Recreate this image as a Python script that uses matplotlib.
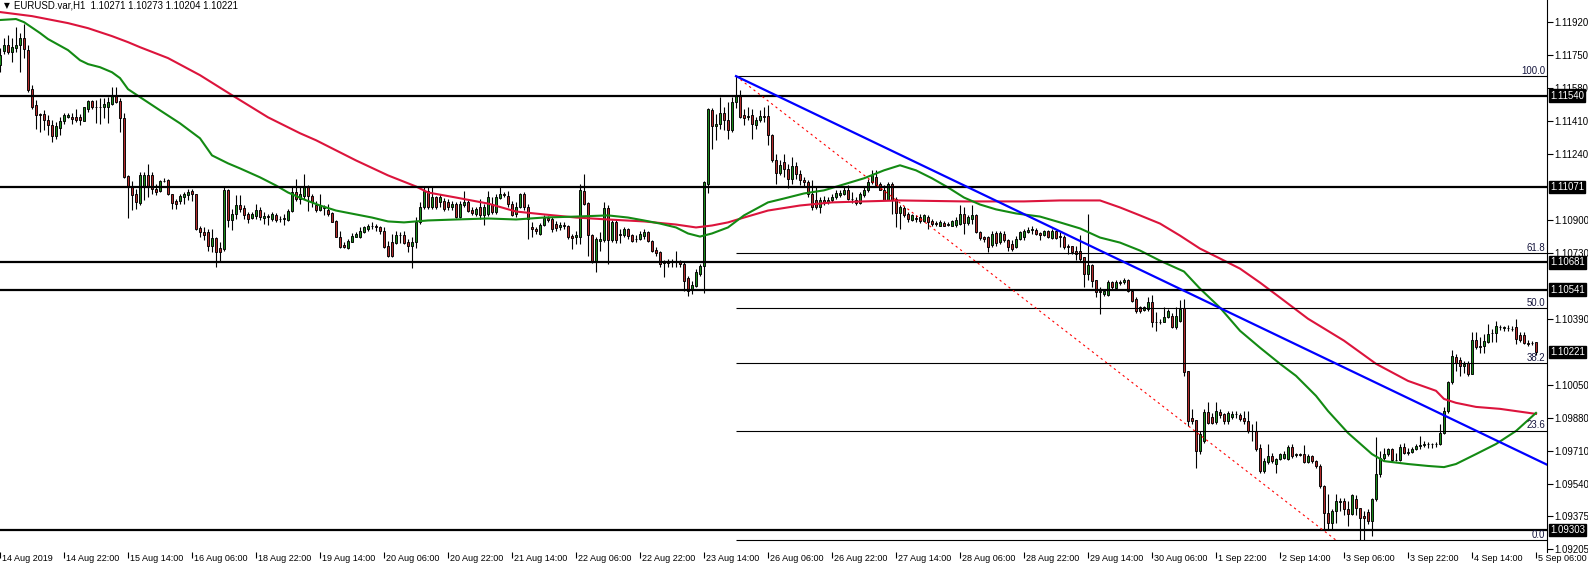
import numpy as np
import matplotlib
matplotlib.use("Agg")
import matplotlib.pyplot as plt

plt.rcParams["font.family"] = ["Liberation Sans", "DejaVu Sans"]

# EURUSD H1 candles, prices in points (1.11697 -> 111697)
open_pts = [
    111697, 111771, 111800, 111762, 111786, 111800, 111838, 111774, 111573, 111491,
    111443, 111444, 111413, 111387, 111332, 111374, 111408, 111430, 111430, 111430,
    111428, 111411, 111470, 111511, 111483, 111482, 111479, 111482, 111499, 111542,
    111511, 111422, 111124, 111074, 111031, 110987, 111069, 111129, 111133, 111061,
    111047, 111100, 111104, 111035, 110997, 110997, 111018, 111026, 111047, 111031,
    110858, 110840, 110840, 110768, 110806, 110754, 110751, 111052, 110897, 110928,
    110975, 110962, 110928, 110911, 110920, 110949, 110910, 110920, 110905, 110926,
    110902, 110905, 110900, 110945, 111043, 111008, 111025, 111068, 111025, 110977,
    110951, 110960, 110951, 110934, 110896, 110814, 110771, 110755, 110788, 110814,
    110814, 110840, 110853, 110871, 110871, 110865, 110841, 110767, 110785, 110779,
    110824, 110824, 110785, 110767, 110785, 110888, 110965, 111051, 110965, 111017,
    110991, 110999, 110991, 110965, 110982, 110917, 110974, 110991, 110951, 110931,
    110965, 110926, 110931, 110982, 110939, 111013, 111034, 111025, 110982, 110928,
    110966, 111031, 110966, 110863, 110851, 110825, 110876, 110911, 110902, 110880,
    110863, 110876, 110866, 110816, 110811, 110811, 111048, 110986, 110820, 110682,
    110790, 110794, 110961, 110794, 110888, 110828, 110820, 110851, 110820, 110800,
    110802, 110815, 110835, 110789, 110747, 110734, 110680, 110682, 110682, 110685,
    110685, 110673, 110601, 110544, 110562, 110622, 110665, 111086, 111467, 111383,
    111395, 111452, 111412, 111365, 111508, 111542, 111442, 111430, 111442, 111387,
    111413, 111435, 111435, 111335, 111210, 111141, 111198, 111163, 111112, 111175,
    111138, 111107, 111095, 111034, 111000, 110966, 111003, 110991, 111000, 111017,
    111026, 111034, 111052, 111009, 111000, 110986, 111026, 111052, 111095, 111120,
    111086, 111055, 111003, 111086, 111009, 110935, 110962, 110931, 110897, 110909,
    110917, 110893, 110917, 110893, 110883, 110871, 110883, 110876, 110871, 110876,
    110880, 110931, 110883, 110905, 110923, 110837, 110811, 110814, 110773, 110831,
    110785, 110828, 110794, 110776, 110759, 110802, 110811, 110837, 110849, 110849,
    110832, 110820, 110842, 110808, 110842, 110815, 110811, 110763, 110763, 110742,
    110742, 110708, 110622, 110670, 110591, 110536, 110519, 110515, 110579, 110550,
    110579, 110579, 110588, 110536, 110493, 110450, 110436, 110441, 110479, 110376,
    110376, 110373, 110398, 110407, 110347, 110381, 110447, 110123, 109882, 109869,
    109710, 109762, 109913, 109886, 109857, 109913, 109900, 109865, 109886, 109900,
    109896, 109882, 109862, 109814, 109814, 109728, 109607, 109655, 109685, 109641,
    109667, 109676, 109667, 109731, 109690, 109693, 109693, 109653, 109684, 109658,
    109633, 109529, 109392, 109340, 109400, 109445, 109455, 109409, 109387, 109461,
    109414, 109375, 109397, 109349, 109461, 109590, 109676, 109696, 109719, 109662,
    109665, 109731, 109701, 109705, 109719, 109736, 109741, 109744, 109748, 109744,
    109744, 109805, 109916, 110063, 110195, 110178, 110149, 110161, 110109, 110281,
    110252, 110252, 110269, 110315, 110315, 110346, 110343, 110343, 110340, 110346,
    110309, 110309, 110264, 110266, 110271,
]
high_pts = [
    111783, 111835, 111852, 111835, 111895, 111860, 111907, 111800, 111594, 111516,
    111448, 111465, 111439, 111413, 111405, 111430, 111448, 111448, 111448, 111470,
    111446, 111482, 111516, 111516, 111516, 111525, 111525, 111534, 111585, 111585,
    111525, 111448, 111129, 111100, 111061, 111147, 111147, 111190, 111147, 111086,
    111107, 111116, 111112, 111035, 111009, 111031, 111043, 111061, 111061, 111031,
    110871, 110863, 110854, 110854, 110811, 110785, 111069, 111061, 110957, 111030,
    111026, 110975, 110940, 110940, 110983, 110966, 110939, 110931, 110939, 110934,
    110922, 110931, 110957, 111072, 111111, 111068, 111137, 111077, 111034, 110999,
    111034, 110977, 110982, 110939, 110900, 110845, 110785, 110802, 110831, 110836,
    110862, 110871, 110879, 110888, 110879, 110871, 110862, 110793, 110828, 110845,
    110836, 110845, 110802, 110810, 110914, 110991, 111068, 111072, 111068, 111025,
    111034, 111013, 111008, 110996, 110991, 110999, 111051, 111008, 110965, 110965,
    111008, 110982, 111051, 111017, 111034, 111068, 111043, 111051, 110999, 110992,
    111038, 111043, 110983, 110888, 110863, 110883, 110923, 110918, 110914, 110894,
    110888, 110888, 110876, 110828, 110845, 111086, 111134, 110992, 110828, 110811,
    110837, 110992, 110975, 110897, 110897, 110854, 110863, 110859, 110828, 110820,
    110845, 110854, 110845, 110794, 110759, 110742, 110694, 110699, 110699, 110742,
    110691, 110682, 110613, 110587, 110647, 110673, 111100, 111477, 111478, 111447,
    111533, 111481, 111508, 111533, 111640, 111568, 111473, 111482, 111473, 111430,
    111465, 111482, 111490, 111340, 111241, 111206, 111241, 111189, 111224, 111198,
    111155, 111120, 111103, 111103, 111069, 111017, 111021, 111017, 111034, 111052,
    111055, 111069, 111077, 111043, 111017, 111043, 111069, 111112, 111158, 111158,
    111095, 111077, 111095, 111095, 111017, 110974, 110969, 110940, 110931, 110923,
    110928, 110928, 110923, 110905, 110893, 110897, 110893, 110888, 110900, 110914,
    110974, 110966, 110923, 110974, 110931, 110845, 110819, 110819, 110845, 110845,
    110845, 110845, 110802, 110794, 110819, 110845, 110854, 110863, 110866, 110859,
    110837, 110849, 110849, 110854, 110849, 110837, 110820, 110777, 110768, 110768,
    110820, 110708, 110932, 110674, 110591, 110553, 110545, 110588, 110584, 110591,
    110588, 110601, 110596, 110545, 110502, 110459, 110459, 110502, 110515, 110424,
    110390, 110450, 110441, 110419, 110450, 110488, 110493, 110123, 109925, 109869,
    109814, 109925, 109960, 109908, 109960, 109925, 109908, 109917, 109917, 109917,
    109908, 109917, 109917, 109848, 109865, 109745, 109676, 109745, 109702, 109676,
    109701, 109710, 109739, 109744, 109701, 109701, 109739, 109693, 109690, 109662,
    109641, 109533, 109490, 109409, 109490, 109469, 109469, 109455, 109490, 109486,
    109418, 109400, 109409, 109469, 109782, 109710, 109727, 109727, 109727, 109701,
    109744, 109753, 109727, 109731, 109744, 109787, 109762, 109758, 109753, 109758,
    109851, 109934, 110071, 110229, 110209, 110192, 110174, 110174, 110321, 110321,
    110295, 110312, 110364, 110338, 110381, 110360, 110355, 110360, 110355, 110389,
    110321, 110321, 110281, 110278, 110273,
]
low_pts = [
    111663, 111752, 111752, 111714, 111766, 111663, 111731, 111559, 111473, 111370,
    111353, 111362, 111336, 111301, 111315, 111336, 111396, 111422, 111396, 111405,
    111387, 111408, 111456, 111473, 111401, 111396, 111425, 111401, 111491, 111504,
    111350, 111117, 110911, 110949, 110957, 110975, 111004, 111018, 111031, 111026,
    111043, 111095, 111026, 110957, 110957, 110983, 110983, 111000, 110997, 110846,
    110811, 110794, 110742, 110734, 110656, 110682, 110742, 110863, 110846, 110906,
    110940, 110906, 110885, 110902, 110906, 110897, 110879, 110876, 110893, 110888,
    110888, 110876, 110896, 110939, 110999, 110982, 111008, 110948, 110965, 110939,
    110948, 110926, 110922, 110888, 110810, 110755, 110755, 110750, 110785, 110810,
    110807, 110831, 110845, 110853, 110845, 110828, 110755, 110707, 110707, 110776,
    110779, 110776, 110733, 110650, 110755, 110879, 110955, 110957, 110957, 110957,
    110965, 110948, 110951, 110951, 110910, 110910, 110965, 110939, 110927, 110922,
    110905, 110874, 110922, 110931, 110931, 111008, 111020, 110965, 110922, 110914,
    110962, 110949, 110802, 110811, 110828, 110820, 110871, 110888, 110837, 110845,
    110849, 110854, 110802, 110751, 110777, 110777, 110975, 110716, 110677, 110630,
    110742, 110785, 110673, 110785, 110780, 110780, 110811, 110802, 110785, 110785,
    110794, 110802, 110785, 110734, 110716, 110656, 110608, 110656, 110656, 110656,
    110656, 110536, 110510, 110519, 110553, 110613, 110522, 111038, 111266, 111309,
    111369, 111361, 111318, 111352, 111478, 111422, 111387, 111413, 111318, 111370,
    111404, 111404, 111286, 111198, 111086, 111129, 111120, 111065, 111086, 111112,
    111077, 111069, 111017, 110952, 110957, 110935, 110974, 110983, 110991, 111009,
    111017, 111026, 111000, 110986, 110979, 110983, 111017, 111043, 111086, 111069,
    111052, 111000, 111000, 110931, 110862, 110854, 110914, 110888, 110893, 110888,
    110883, 110888, 110854, 110871, 110871, 110866, 110866, 110866, 110866, 110862,
    110876, 110828, 110876, 110880, 110831, 110794, 110785, 110733, 110759, 110768,
    110776, 110785, 110742, 110742, 110756, 110794, 110798, 110832, 110828, 110820,
    110798, 110815, 110808, 110803, 110803, 110760, 110751, 110725, 110725, 110691,
    110687, 110553, 110588, 110553, 110502, 110416, 110510, 110510, 110545, 110545,
    110567, 110570, 110527, 110476, 110419, 110419, 110429, 110433, 110347, 110330,
    110364, 110373, 110395, 110343, 110338, 110373, 110097, 109839, 109848, 109624,
    109693, 109753, 109848, 109848, 109848, 109882, 109848, 109848, 109874, 109882,
    109865, 109848, 109805, 109762, 109710, 109599, 109599, 109642, 109650, 109598,
    109662, 109667, 109662, 109676, 109680, 109684, 109650, 109650, 109650, 109624,
    109521, 109301, 109301, 109301, 109340, 109400, 109383, 109323, 109383, 109383,
    109254, 109254, 109335, 109271, 109455, 109576, 109658, 109684, 109655, 109658,
    109660, 109693, 109690, 109701, 109713, 109719, 109731, 109727, 109727, 109731,
    109741, 109799, 109908, 110054, 110123, 110097, 110114, 110097, 110106, 110235,
    110212, 110212, 110264, 110269, 110269, 110333, 110329, 110329, 110326, 110260,
    110269, 110260, 110252, 110257, 110204,
]
close_pts = [
    111749, 111800, 111762, 111792, 111800, 111835, 111778, 111568, 111482, 111439,
    111440, 111413, 111387, 111332, 111382, 111408, 111439, 111439, 111417, 111413,
    111413, 111479, 111511, 111482, 111482, 111483, 111499, 111508, 111542, 111508,
    111422, 111121, 111074, 111026, 110992, 111129, 111129, 111074, 111061, 111043,
    111100, 111102, 111035, 110987, 110983, 111021, 111031, 111043, 111031, 110854,
    110837, 110820, 110768, 110806, 110734, 110734, 111052, 110897, 110932, 110975,
    110954, 110926, 110902, 110928, 110949, 110914, 110922, 110914, 110931, 110900,
    110905, 110910, 110945, 111043, 111008, 111034, 111068, 111025, 110991, 110951,
    110974, 110968, 110931, 110891, 110814, 110759, 110759, 110793, 110819, 110828,
    110845, 110862, 110871, 110869, 110862, 110841, 110762, 110716, 110716, 110824,
    110822, 110779, 110767, 110788, 110888, 110965, 111048, 110965, 111017, 110965,
    111017, 110957, 110965, 110982, 110914, 110982, 110991, 110948, 110934, 110957,
    110926, 110965, 111017, 110939, 111017, 111034, 111030, 110982, 110927, 110966,
    111031, 110966, 110906, 110851, 110842, 110876, 110911, 110897, 110854, 110859,
    110876, 110866, 110811, 110806, 110821, 111052, 110983, 110820, 110682, 110802,
    110802, 110961, 110794, 110888, 110794, 110820, 110851, 110816, 110790, 110804,
    110828, 110835, 110790, 110742, 110728, 110673, 110685, 110680, 110685, 110682,
    110673, 110587, 110536, 110565, 110630, 110661, 111095, 111473, 111383, 111395,
    111452, 111412, 111365, 111508, 111542, 111430, 111425, 111435, 111396, 111413,
    111435, 111430, 111336, 111206, 111141, 111181, 111163, 111112, 111175, 111138,
    111103, 111095, 111034, 110966, 110966, 111003, 110991, 111003, 111017, 111038,
    111038, 111055, 111009, 111005, 110986, 111031, 111052, 111095, 111129, 111077,
    111055, 111003, 111086, 111003, 110935, 110966, 110923, 110905, 110923, 110905,
    110893, 110923, 110888, 110880, 110880, 110888, 110871, 110878, 110892, 110897,
    110931, 110883, 110914, 110923, 110837, 110807, 110802, 110759, 110828, 110780,
    110831, 110794, 110759, 110751, 110802, 110840, 110842, 110849, 110851, 110825,
    110820, 110842, 110811, 110842, 110808, 110811, 110760, 110760, 110734, 110725,
    110699, 110622, 110670, 110584, 110527, 110527, 110536, 110579, 110553, 110579,
    110577, 110591, 110536, 110484, 110429, 110429, 110453, 110479, 110373, 110374,
    110373, 110402, 110429, 110347, 110407, 110441, 110115, 109865, 109865, 109710,
    109796, 109913, 109853, 109853, 109917, 109896, 109865, 109908, 109903, 109898,
    109874, 109862, 109814, 109812, 109719, 109607, 109659, 109685, 109659, 109667,
    109693, 109696, 109731, 109684, 109693, 109690, 109653, 109684, 109658, 109633,
    109529, 109392, 109340, 109400, 109452, 109455, 109409, 109387, 109483, 109414,
    109366, 109363, 109349, 109461, 109590, 109676, 109696, 109719, 109662, 109665,
    109731, 109701, 109707, 109719, 109736, 109741, 109744, 109748, 109744, 109746,
    109805, 109916, 110063, 110200, 110161, 110149, 110157, 110109, 110281, 110243,
    110248, 110274, 110312, 110319, 110355, 110348, 110346, 110341, 110338, 110286,
    110281, 110264, 110262, 110268, 110221,
]

# moving averages, sampled (bar index, price in points)
green_ma_bars = [0, 4, 6, 10, 12, 17, 20, 22, 25, 28, 30, 32, 35, 40, 45, 50, 53, 57, 60, 65,
                 69, 72, 76, 80, 84, 89, 93, 97, 101, 107, 114, 122, 129, 136, 144, 152, 157,
                 161, 165, 169, 172, 175, 178, 182, 186, 192, 196, 201, 206, 211, 216, 221,
                 225, 229, 233, 237, 241, 245, 249, 254, 260, 265, 270, 275, 280, 285, 290,
                 296, 300, 305, 310, 315, 320, 324, 329, 332, 337, 343, 346, 352, 357, 361,
                 364, 369, 374, 379, 384]
green_ma_pts = [111929, 111934, 111918, 111862, 111831, 111774, 111722, 111702, 111686, 111660,
                111630, 111573, 111532, 111464, 111397, 111320, 111232, 111191, 111165, 111119,
                111077, 111041, 111005, 110974, 110948, 110928, 110912, 110892, 110887, 110897,
                110902, 110907, 110902, 110912, 110917, 110923, 110912, 110897, 110881, 110861,
                110830, 110814, 110830, 110861, 110923, 110990, 111010, 111036, 111052, 111083,
                111114, 111155, 111181, 111155, 111114, 111067, 111015, 110979, 110954, 110933,
                110917, 110887, 110856, 110809, 110783, 110742, 110690, 110634, 110546, 110448,
                110329, 110242, 110159, 110097, 109994, 109916, 109803, 109694, 109658, 109643,
                109633, 109627, 109643, 109694, 109746, 109813, 109906]
red_ma_bars = [0, 8, 17, 22, 28, 32, 35, 42, 50, 58, 67, 75, 79, 89, 97, 104, 107, 114, 122,
               129, 136, 144, 152, 161, 169, 174, 178, 182, 186, 192, 200, 208, 216, 225, 241,
               256, 265, 275, 280, 285, 290, 295, 300, 305, 310, 315, 320, 327, 336, 344, 352,
               359, 361, 364, 369, 375, 384]
red_ma_pts = [111970, 111949, 111913, 111887, 111846, 111815, 111789, 111733, 111645, 111542,
              111428, 111346, 111310, 111206, 111129, 111072, 111041, 111015, 110984, 110943,
              110928, 110912, 110902, 110892, 110876, 110861, 110871, 110887, 110912, 110948,
              110974, 110990, 110995, 111000, 110995, 110995, 111000, 111000, 110964, 110923,
              110881, 110819, 110752, 110701, 110649, 110577, 110500, 110391, 110278, 110159,
              110071, 110020, 109978, 109958, 109937, 109927, 109901]

# objects on the chart
hline_prices = [1.11540, 1.11071, 1.10681, 1.10541, 1.09303]
fib_bars = [184, 334]
fib_prices = [1.11640, 1.09251]
fib_levels = [100.0, 61.8, 50.0, 38.2, 23.6, 0.0]
trend_bars = [184, 334]
trend_prices = [1.11640, 1.10160]
last_price = 1.10221

# price scale labels (the ones under the price boxes are hidden in the original)
y_ticks = [1.11920, 1.11750, 1.11580, 1.11410, 1.11240, 1.10900, 1.10730,
           1.10390, 1.10050, 1.09880, 1.09710, 1.09540, 1.09375, 1.09205]
x_labels = ["14 Aug 2019", "14 Aug 22:00", "15 Aug 14:00", "16 Aug 06:00", "18 Aug 22:00",
            "19 Aug 14:00", "20 Aug 06:00", "20 Aug 22:00", "21 Aug 14:00", "22 Aug 06:00",
            "22 Aug 22:00", "23 Aug 14:00", "26 Aug 06:00", "26 Aug 22:00", "27 Aug 14:00",
            "28 Aug 06:00", "28 Aug 22:00", "29 Aug 14:00", "30 Aug 06:00", "1 Sep 22:00",
            "2 Sep 14:00", "3 Sep 06:00", "3 Sep 22:00", "4 Sep 14:00", "5 Sep 06:00"]
title = "EURUSD.var,H1  1.10271 1.10273 1.10204 1.10221"

o = np.array(open_pts) / 1e5
h = np.array(high_pts) / 1e5
l = np.array(low_pts) / 1e5
c = np.array(close_pts) / 1e5
h = np.maximum(h, np.maximum(o, c))
l = np.minimum(l, np.minimum(o, c))
idx = np.arange(len(o))

FS = 6.5     # time axis / fib labels
FS_Y = 6.9   # price axis labels
fig = plt.figure(figsize=(15.88, 5.70), dpi=100)
ax = fig.add_axes([0, 18 / 570, 1547 / 1588, 552 / 570])
x_right = 386.75
ax.set_xlim(0, x_right)
ax.set_ylim(1.09190, 1.12032)

# candles
up = c >= o
body_lo = np.minimum(o, c)
body_h = np.maximum(np.abs(c - o), 0.000012)
ax.vlines(idx, l, h, color="black", lw=0.8, zorder=2)
ax.bar(idx, body_h, bottom=body_lo, width=0.7,
       color=np.where(up, "#1a8a1a", "#b32a2a"), edgecolor="black", linewidth=0.65, zorder=3)

# moving averages
ax.plot(red_ma_bars, np.array(red_ma_pts) / 1e5, color="#dc143c", lw=1.5, zorder=4)
ax.plot(green_ma_bars, np.array(green_ma_pts) / 1e5, color="#138a13", lw=1.5, zorder=4)

# horizontal levels
for p in hline_prices:
    ax.axhline(p, color="black", lw=1.6, zorder=5)

# fibonacci retracement
fib_hi, fib_lo = fib_prices
for lev in fib_levels:
    p = fib_lo + (fib_hi - fib_lo) * lev / 100
    ax.hlines(p, fib_bars[0], x_right, color="black", lw=0.8, zorder=5)
    ax.text(x_right - 0.4, p + 0.00002, f"{lev:.1f}", ha="right", va="bottom",
            fontsize=FS_Y, color="#14143c", zorder=6)
ax.plot(fib_bars, fib_prices, color="red", lw=0.8, ls=(0, (2, 3)), zorder=5)

# trend line (ray to the right)
slope = (trend_prices[1] - trend_prices[0]) / (trend_bars[1] - trend_bars[0])
ax.plot([trend_bars[0], x_right], [trend_prices[0], trend_prices[0] + slope * (x_right - trend_bars[0])],
        color="#0000ff", lw=1.6, zorder=5)

# axes styling
for s in ["top", "left", "bottom"]:
    ax.spines[s].set_visible(False)
ax.spines["right"].set_linewidth(0.8)
ax.yaxis.tick_right()
ax.set_yticks(y_ticks)
ax.set_yticklabels([f"{t:.5f}" for t in y_ticks])
ax.tick_params(axis="y", direction="out", length=4, width=0.8, pad=1.5, labelsize=FS_Y)
ax.set_xticks(idx[::16][:len(x_labels)])
ax.set_xticklabels([])
ax.tick_params(axis="x", direction="out", length=4, width=0.8)
xt = ax.get_xaxis_transform()
for pos, lab in zip(idx[::16], x_labels):
    ax.text(pos + 0.4, -0.004, lab, transform=xt, ha="left", va="top", fontsize=FS, clip_on=False)

# price boxes on the axis
yt = ax.get_yaxis_transform()
for p in hline_prices + [last_price]:
    ax.text(1 + 3 / 1547, p, f"{p:.5f}", transform=yt, ha="left", va="center", fontsize=FS_Y,
            color="white", zorder=10, clip_on=False,
            bbox=dict(boxstyle="square,pad=0.12", fc="black", ec="black"))

fig.text(4 / 1588, 1 - 6 / 570, "\u25bc", fontsize=5.5, va="center", family="DejaVu Sans")
fig.text(14 / 1588, 1 - 6 / 570, title, fontsize=6.9, va="center")

fig.savefig("out.png", dpi=100)
